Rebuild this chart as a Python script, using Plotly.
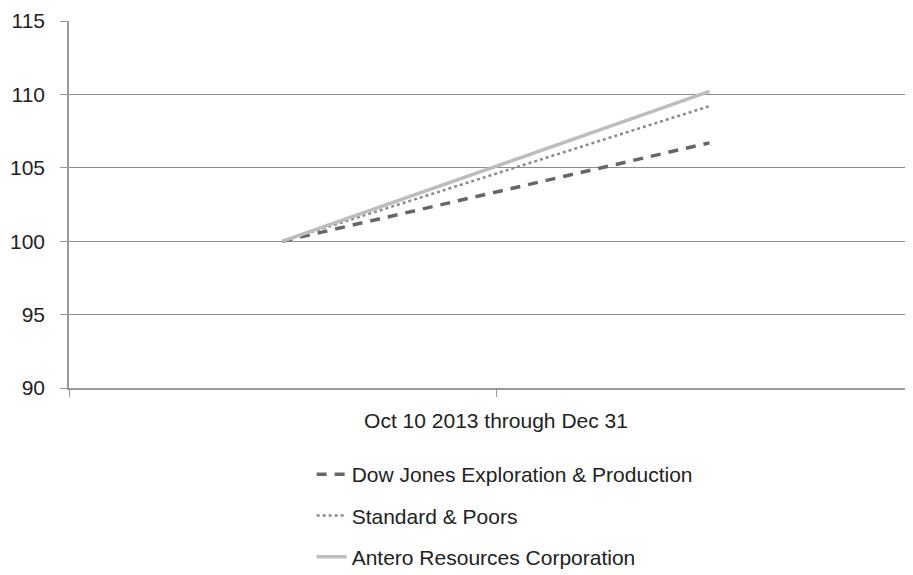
import plotly.graph_objects as go

periods = ["Oct 10 2013", "Dec 31 2013"]
dow_jones = [100, 106.7]
sp500 = [100, 109.2]
antero = [100, 110.2]
y_ticks = [90, 95, 100, 105, 110, 115]
x_label = "Oct 10 2013 through Dec 31"

xs = list(range(len(periods)))

fig = go.Figure()
fig.add_trace(go.Scatter(x=xs, y=dow_jones, mode="lines", name="Dow Jones Exploration &amp; Production",
                         line=dict(color="#666666", width=3.5, dash="10px,8px"), legendgroup="a"))
fig.add_trace(go.Scatter(x=xs, y=sp500, mode="lines", name="Standard &amp; Poors",
                         line=dict(color="#8a8a8a", width=2.5, dash="dot"), legendgroup="b"))
fig.add_trace(go.Scatter(x=xs, y=antero, mode="lines", name="Antero Resources Corporation",
                         line=dict(color="#bdbdbd", width=3.5), legendgroup="c"))

fig.update_layout(
    width=905, height=567,
    margin=dict(l=61, r=0, t=13, b=187, autoexpand=False),
    paper_bgcolor="white", plot_bgcolor="white",
    font=dict(family="Liberation Sans, Arial, sans-serif", size=21, color="#222222"),
    showlegend=True,
    legend=dict(x=0.2875, y=-0.18, xanchor="left", yanchor="top", orientation="v",
                tracegroupgap=11, font=dict(size=21), bgcolor="rgba(0,0,0,0)"),
    xaxis=dict(range=[-0.5, 1.4766], tickvals=[-0.5, 0.5], ticktext=["", x_label],
               showgrid=False, zeroline=False, showline=True, linecolor="#999999", linewidth=1.5,
               ticks="outside", ticklen=7, tickcolor="#999999", ticklabelstandoff=6, automargin=False),
    yaxis=dict(range=[90, 115], tickvals=y_ticks, showgrid=True, gridcolor="#8c8c8c", gridwidth=1,
               zeroline=False, showline=True, linecolor="#999999", linewidth=1.5,
               ticks="outside", ticklen=7, tickcolor="#999999", ticklabelstandoff=11, automargin=False),
)

fig.write_html("out.html")
